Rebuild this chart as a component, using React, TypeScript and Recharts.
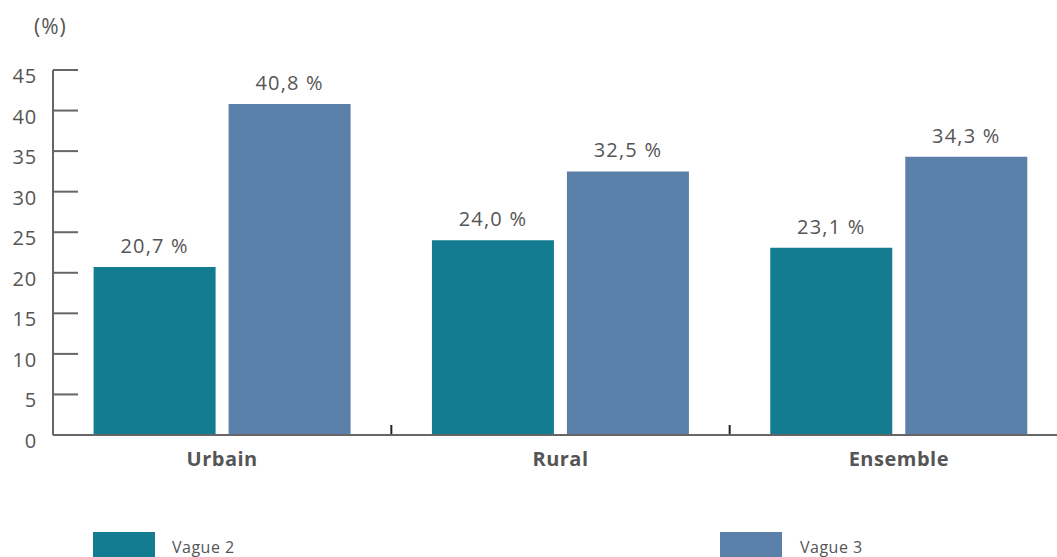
import React from 'react';
import { BarChart, Bar, XAxis, YAxis, LabelList } from 'recharts';

const categories = ['Urbain', 'Rural', 'Ensemble'];
const vague2 = [20.7, 24.0, 23.1];
const vague3 = [40.8, 32.5, 34.3];
const yTicks = [0, 5, 10, 15, 20, 25, 30, 35, 40, 45];
const seriesNames = ['Vague 2', 'Vague 3'];
const colors = ['#147C91', '#5B80AA'];

const data = categories.map((c, i) => ({ name: c, v2: vague2[i], v3: vague3[i] }));

const FONT = '"Open Sans", "Noto Sans", sans-serif';
const TEXT = '#555555';
const AXIS = '#666666';

const fmt = (v: any) => `${Number(v).toFixed(1).replace('.', ',')} %`;

const YTick = (props: any) => {
  const { x, y, payload } = props;
  return (
    <g>
      <line x1={x} x2={x + 25} y1={y} y2={y} stroke={AXIS} strokeWidth={2} />
      <text x={x - 16} y={y} dy={13} textAnchor="end" fill={TEXT} fontSize={20} letterSpacing={0.8} fontFamily={FONT}>
        {payload.value}
      </text>
    </g>
  );
};

const XTick = (props: any) => {
  const { x, y, payload, index } = props;
  const half = payload && payload.offset ? payload.offset : 0;
  const axisY = y - 24;
  return (
    <g>
      {index > 0 && half > 0 ? (
        <line x1={x - half} x2={x - half} y1={axisY - 1} y2={axisY - 10} stroke="#222" strokeWidth={2} />
      ) : null}
      <text x={x} y={y} dy={7} textAnchor="middle" fill={TEXT} fontSize={20} fontWeight={700} letterSpacing={0.5} fontFamily={FONT}>
        {payload.value}
      </text>
    </g>
  );
};

export default function App() {
  return (
    <div style={{ position: 'absolute', left: 0, top: 0, width: 1057, height: 557, overflow: 'hidden', background: '#fff' }}>
      <div style={{ position: 'absolute', left: 34, top: 12, fontFamily: FONT, fontSize: 21, letterSpacing: 1, color: TEXT }}>(%)</div>
      <BarChart
        width={1072}
        height={500}
        data={data}
        margin={{ top: 70, right: 4, bottom: 0, left: 0 }}
        barCategoryGap="12%"
        barGap={13}
      >
        <YAxis
          type="number"
          domain={[0, 45]}
          ticks={yTicks}
          interval={0}
          width={53}
          axisLine={{ stroke: AXIS, strokeWidth: 2 }}
          tickLine={false}
          tickSize={0}
          tickMargin={0}
          tick={<YTick />}
        />
        <XAxis
          dataKey="name"
          height={65}
          axisLine={{ stroke: AXIS, strokeWidth: 2 }}
          tickLine={false}
          tickSize={0}
          tickMargin={24}
          tick={<XTick />}
        />
        <Bar dataKey="v2" name={seriesNames[0]} fill={colors[0]} isAnimationActive={false}>
          <LabelList dataKey="v2" position="top" offset={14} formatter={fmt} fill={TEXT} fontSize={20} letterSpacing={1.2} fontFamily={FONT} />
        </Bar>
        <Bar dataKey="v3" name={seriesNames[1]} fill={colors[1]} isAnimationActive={false}>
          <LabelList dataKey="v3" position="top" offset={14} formatter={fmt} fill={TEXT} fontSize={20} letterSpacing={1.2} fontFamily={FONT} />
        </Bar>
      </BarChart>
      <div style={{ position: 'absolute', left: 93, top: 532, width: 62, height: 26, background: colors[0] }} />
      <div style={{ position: 'absolute', left: 172, top: 536, fontFamily: FONT, fontSize: 16, letterSpacing: 0.5, color: TEXT }}>{seriesNames[0]}</div>
      <div style={{ position: 'absolute', left: 720, top: 532, width: 62, height: 26, background: colors[1] }} />
      <div style={{ position: 'absolute', left: 800, top: 536, fontFamily: FONT, fontSize: 16, letterSpacing: 0.5, color: TEXT }}>{seriesNames[1]}</div>
    </div>
  );
}
